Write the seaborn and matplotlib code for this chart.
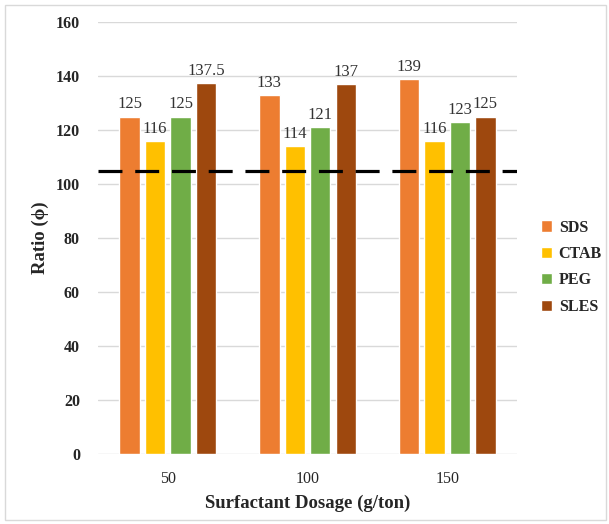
import matplotlib
matplotlib.use("Agg")
import matplotlib.pyplot as plt
from matplotlib.patches import Rectangle
import seaborn as sns
import pandas as pd

dosages = ["50", "100", "150"]
surfactants = ["SDS", "CTAB", "PEG", "SLES"]
sds = [125, 133, 139]
ctab = [116, 114, 116]
peg = [125, 121, 123]
sles = [137.5, 137, 125]
threshold = 105
colors = ["#ED7D31", "#FFC000", "#70AD47", "#9E480E"]

rows = []
for name, vals in zip(surfactants, [sds, ctab, peg, sles]):
    for d, v in zip(dosages, vals):
        rows.append({"Dosage": d, "Surfactant": name, "Ratio": v})
df = pd.DataFrame(rows)

sns.set_style("white")
plt.rcParams['font.family'] = ['Liberation Serif', 'DejaVu Serif']

fig = plt.figure(figsize=(6.09, 5.24), dpi=100)
ax = fig.add_axes([0.161, 0.1336, 0.688, 0.8244])

sns.barplot(data=df, x="Dosage", y="Ratio", hue="Surfactant", order=dosages,
            hue_order=surfactants, palette=colors, width=0.73, gap=0.2,
            saturation=1, ax=ax, legend=True)

for cont in ax.containers:
    ax.bar_label(cont, labels=["{:g}".format(v) for v in cont.datavalues],
                 padding=3, fontsize=12, color="#333333")

ax.axhline(threshold, color="black", lw=2.3, ls=(0, (7.5, 4)), zorder=5)

ax.set_ylim(0, 160)
ax.set_yticks(range(0, 161, 20))
ax.yaxis.grid(True, color="#D9D9D9", lw=1)
ax.set_axisbelow(True)
for s in ax.spines.values():
    s.set_visible(False)
ax.tick_params(axis="both", length=0, labelsize=11.5)
ax.tick_params(axis="y", pad=13)
ax.tick_params(axis="x", pad=12)
for lbl in ax.get_yticklabels():
    lbl.set_fontweight("bold")
ax.set_xlabel("Surfactant Dosage (g/ton)", fontsize=13.5, fontweight="bold", labelpad=6)
ax.set_ylabel("Ratio (ϕ)", fontsize=13.5, fontweight="bold", labelpad=5)

ax.legend(loc="center left", bbox_to_anchor=(0.865, 0.49), bbox_transform=fig.transFigure,
          frameon=False, handlelength=0.7, handleheight=0.7, handletextpad=0.4,
          labelspacing=0.65, prop={"weight": "bold", "size": 11.5})

fig.patches.append(Rectangle((5 / 609, 4 / 524), 601 / 609, 515 / 524, transform=fig.transFigure,
                             fill=False, edgecolor="#D9D9D9", lw=1))

fig.savefig("out.png", dpi=100)
